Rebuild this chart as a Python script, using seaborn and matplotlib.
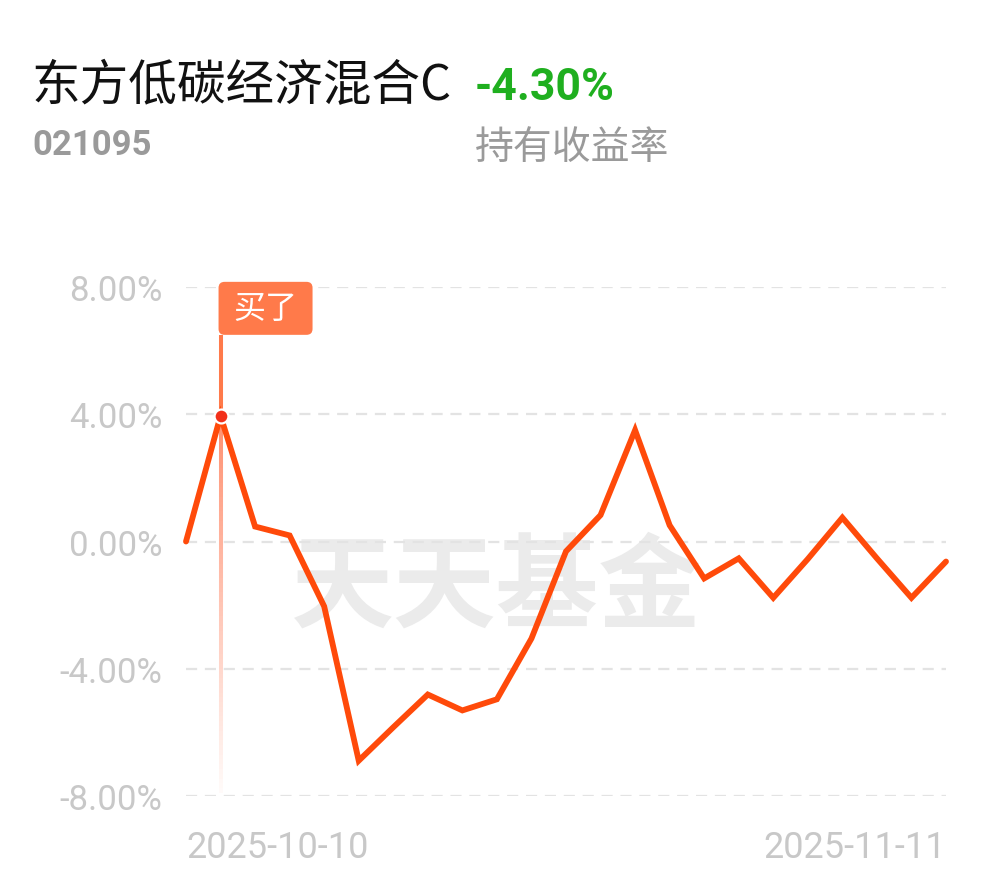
import numpy as np
import pandas as pd
import seaborn as sns
import matplotlib.pyplot as plt
from matplotlib.collections import LineCollection
from matplotlib.patches import FancyBboxPatch
from matplotlib.transforms import IdentityTransform

# fund data
fund_name = '东方低碳经济混合C'
fund_code = '021095'
hold_return = '-4.30%'

dates = ['2025-10-10', '2025-10-13', '2025-10-14', '2025-10-15', '2025-10-16', '2025-10-17',
         '2025-10-20', '2025-10-21', '2025-10-22', '2025-10-23', '2025-10-24',
         '2025-10-27', '2025-10-28', '2025-10-29', '2025-10-30', '2025-10-31',
         '2025-11-03', '2025-11-04', '2025-11-05', '2025-11-06', '2025-11-07',
         '2025-11-10', '2025-11-11']
returns = [0.00, 3.95, 0.47, 0.19, -2.04, -6.89, -5.84, -4.81, -5.31, -4.96, -3.05,
           -0.31, 0.83, 3.50, 0.51, -1.16, -0.53, -1.77, -0.55, 0.75, -0.53, -1.77, -0.63]
y_ticks = [8, 4, 0, -4, -8]
buy_index = 1

df = pd.DataFrame({'date': dates, 'ret': returns})
df['pos'] = range(len(df))

sns.set_theme(style='white')
plt.rcParams['font.family'] = ['Roboto', 'Noto Sans CJK SC', 'DejaVu Sans']

fig = plt.figure(figsize=(9.9, 8.78), dpi=100)
ax = fig.add_axes([186 / 990, 1 - 797 / 878, 760 / 990, 509 / 878])
ax.patch.set_alpha(0)

line_color = '#FF4A0A'
grey_tick = '#C8C8C8'

# watermark (behind the line)
ax.text(0.501, 0.329, '天天基金', fontsize=74, fontweight='bold', color='#EBEBEB',
        ha='center', va='center', family=['Noto Sans CJK SC'], zorder=0.5,
        transform=fig.transFigure)

# gridlines
for t in y_ticks:
    ax.axhline(t, color='#E3E3E3', lw=1.6, ls=(0, (5, 3.5)), zorder=1)

sns.lineplot(data=df, x='pos', y='ret', ax=ax, color=line_color, lw=4.2, zorder=3)
ax.lines[-1].set_solid_joinstyle('miter')
ax.lines[-1].set_clip_on(False)

ax.set_xlim(0, len(df) - 1)
ax.set_ylim(-8, 8)

# buy marker + flag
bx, by = buy_index, returns[buy_index]
px, py = ax.transData.transform((bx, by))
box_bottom = ax.transData.inverted().transform((px, py + 81))[1]
ax.plot([bx, bx], [by, box_bottom], color='#FF7A4A', lw=2.9, zorder=2, solid_capstyle='butt')

ys = np.linspace(by, -7.9, 80)
segs = [[(bx, ys[i]), (bx, ys[i + 1])] for i in range(len(ys) - 1)]
alphas = np.linspace(0.75, 0.03, len(segs))
cols = [(1.0, 0.42, 0.25, a) for a in alphas]
ax.add_collection(LineCollection(segs, colors=cols, linewidths=2.9, zorder=2))

ax.plot([bx], [by], 'o', color='#F2301A', ms=10, mec='white', mew=1.6, zorder=4, clip_on=False)

box = FancyBboxPatch((px - 2, py + 81), 94, 53, boxstyle='round,pad=0,rounding_size=6',
                     transform=IdentityTransform(), fc='#FF7A4A', ec='none', zorder=5)
fig.add_artist(box)
fig.text((px - 2 + 47) / 990, (py + 81 + 27) / 878, '买了', color='white', fontsize=23,
         ha='center', va='center', family=['Noto Sans CJK SC'], zorder=6)

# axes styling
for s in ax.spines.values():
    s.set_visible(False)
ax.set_yticks(y_ticks)
ax.set_yticklabels(['%.2f%%' % t for t in y_ticks])
ax.set_xticks([0, len(df) - 1])
ax.set_xticklabels([dates[0], dates[-1]])
ax.tick_params(axis='y', colors=grey_tick, labelsize=25, length=0, pad=17)
ax.tick_params(axis='x', colors=grey_tick, labelsize=26, length=0, pad=24)
xl = ax.get_xticklabels()
xl[0].set_ha('left')
xl[1].set_ha('right')
ax.set_xlabel('')
ax.set_ylabel('')
ax.grid(False)

# header
fig.text(32 / 990, 1 - 86 / 878, fund_name, fontsize=35, color='#111111', ha='left', va='center',
         family=['Noto Sans CJK SC'])
fig.text(475 / 990, 1 - 88 / 878, hold_return, fontsize=32, fontweight='bold', color='#1FAF1F',
         ha='left', va='center')
fig.text(32 / 990, 1 - 146 / 878, fund_code, fontsize=25, fontweight='bold', color='#9A9A9A',
         ha='left', va='center')
fig.text(475 / 990, 1 - 148 / 878, '持有收益率', fontsize=28, color='#9A9A9A', ha='left', va='center',
         family=['Noto Sans CJK SC'])

plt.savefig('out.png', dpi=100)
